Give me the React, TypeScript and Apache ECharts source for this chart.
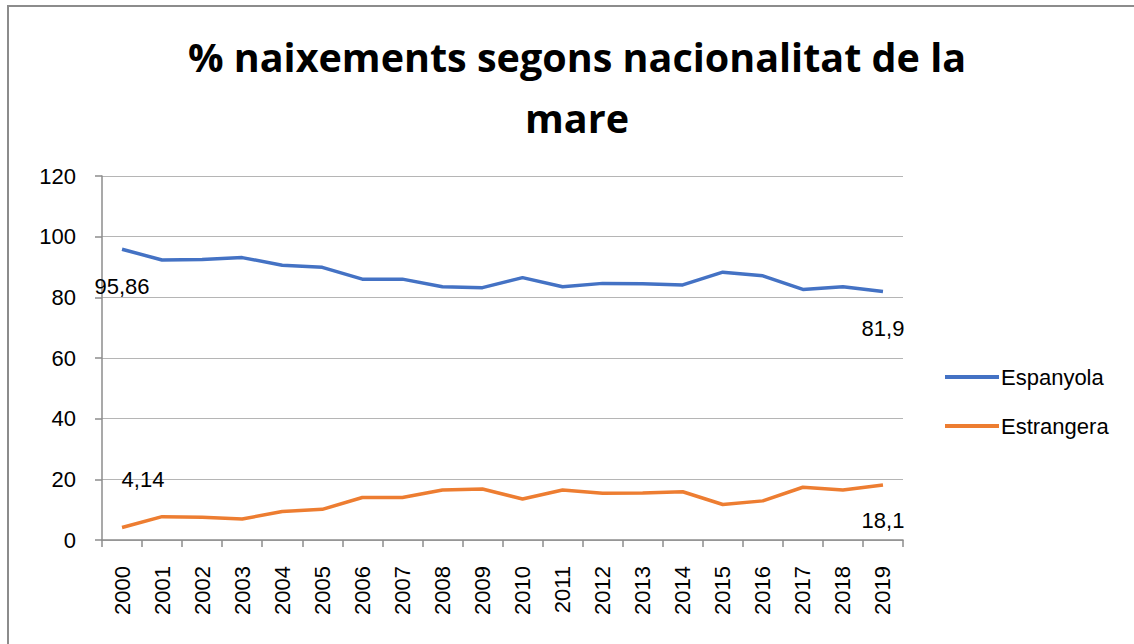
import React, { useEffect, useRef } from "react";
import * as echarts from "echarts";

const years = ["2000","2001","2002","2003","2004","2005","2006","2007","2008","2009","2010","2011","2012","2013","2014","2015","2016","2017","2018","2019"];
const espanyola = [95.86, 92.3, 92.5, 93.1, 90.6, 89.9, 86.0, 86.0, 83.5, 83.2, 86.5, 83.5, 84.6, 84.5, 84.1, 88.3, 87.1, 82.6, 83.5, 81.9];
const estrangera = [4.14, 7.7, 7.5, 6.9, 9.4, 10.1, 14.0, 14.0, 16.5, 16.8, 13.5, 16.5, 15.4, 15.5, 15.9, 11.7, 12.9, 17.4, 16.5, 18.1];
const yTicks = { min: 0, max: 120, interval: 20 };

const fmt = (v: number) => String(v).replace(".", ",");
const labelFont = { fontFamily: "Liberation Sans, Arial, sans-serif", fontSize: 22, color: "#000" };

function withEndLabels(arr: number[], first: any, last: any) {
  return arr.map((v, i) => {
    if (i === 0) return { value: v, label: { show: true, formatter: fmt(v), ...labelFont, ...first } };
    if (i === arr.length - 1) return { value: v, label: { show: true, formatter: fmt(v), ...labelFont, ...last } };
    return v;
  });
}

export default function App() {
  const ref = useRef<HTMLDivElement>(null);
  useEffect(() => {
    const chart = echarts.init(ref.current!, null, { renderer: "svg" });
    chart.setOption({
      animation: false,
      backgroundColor: "#fff",
      title: {
        text: "% naixements segons nacionalitat de la\nmare",
        left: 572,
        textAlign: "center",
        top: 21,
        textStyle: {
          fontFamily: "Open Sans, Noto Sans, sans-serif",
          fontWeight: "bold",
          fontSize: 39.5,
          lineHeight: 61,
          color: "#000",
        },
      },
      graphic: [
        { type: "line", shape: { x1: 7, y1: 6, x2: 1134, y2: 6 }, style: { stroke: "#8c8c8c", lineWidth: 2 } },
        { type: "line", shape: { x1: 8, y1: 5, x2: 8, y2: 644 }, style: { stroke: "#8c8c8c", lineWidth: 2 } },
      ],
      legend: {
        orient: "vertical",
        left: 940,
        top: 361,
        itemWidth: 54,
        itemHeight: 22,
        itemGap: 27,
        icon: "path://M0,0 L54,0 L54,4 L0,4 Z",
        textStyle: { ...labelFont, padding: [0, 0, 0, -3] },
        data: ["Espanyola", "Estrangera"],
      },
      grid: { left: 102, right: 231, top: 176, bottom: 104, containLabel: false },
      xAxis: {
        type: "category",
        data: years,
        boundaryGap: true,
        axisLine: { lineStyle: { color: "#8c8c8c", width: 1.5 } },
        axisTick: { show: true, length: 7, lineStyle: { color: "#8c8c8c", width: 1.5 }, alignWithLabel: false },
        axisLabel: { rotate: 90, margin: 26, interval: 0, ...labelFont },
      },
      yAxis: {
        type: "value",
        ...yTicks,
        axisLine: { show: true, lineStyle: { color: "#8c8c8c", width: 1.5 } },
        axisTick: { show: true, length: 7, lineStyle: { color: "#8c8c8c", width: 1.5 } },
        splitLine: { lineStyle: { color: "#b5b5b5", width: 1 } },
        axisLabel: { margin: 26, ...labelFont },
      },
      series: [
        {
          name: "Espanyola",
          type: "line",
          data: withEndLabels(espanyola, { position: "bottom", distance: 26 }, { position: "bottom", distance: 26 }),
          symbol: "circle",
          symbolSize: 0,
          showSymbol: true,
          lineStyle: { color: "#4472C4", width: 3.5 },
          itemStyle: { color: "#4472C4" },
        },
        {
          name: "Estrangera",
          type: "line",
          data: withEndLabels(estrangera, { position: "top", distance: 37, offset: [21, 0] }, { position: "bottom", distance: 24 }),
          symbol: "circle",
          symbolSize: 0,
          showSymbol: true,
          lineStyle: { color: "#ED7D31", width: 3.5 },
          itemStyle: { color: "#ED7D31" },
        },
      ],
    });
    return () => chart.dispose();
  }, []);
  return <div ref={ref} style={{ position: "absolute", left: 0, top: 0, width: 1134, height: 644 }} />;
}
